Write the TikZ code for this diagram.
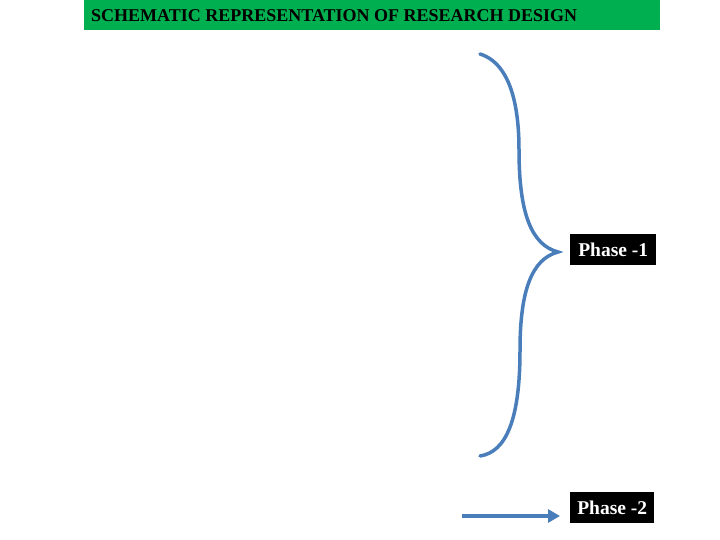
\documentclass[tikz,border=0pt]{standalone}
\usepackage{fontspec}
\setmainfont{Liberation Serif}
\usetikzlibrary{arrows.meta}
\definecolor{titlegreen}{RGB}{0,176,80}
\definecolor{linkblue}{RGB}{74,126,187}
\tikzset{
  phasebox/.style={fill=black, text=white, font=\fontsize{19.5}{21}\selectfont\bfseries, inner sep=0pt, minimum width=86pt, minimum height=31pt},
  bluelink/.style={draw=linkblue, line width=3.5pt}
}
\begin{document}
\begin{tikzpicture}[x=1pt,y=-1pt]
\useasboundingbox (0,0) rectangle (720,540);
\fill[white] (0,0) rectangle (720,540);
\node[fill=titlegreen, minimum width=576pt, minimum height=30pt, inner sep=0pt, anchor=north west] (title) at (84,0) {};
\node[anchor=west, inner sep=0pt, font=\fontsize{18}{20}\selectfont\bfseries] (titletext) at (91,15.5) {SCHEMATIC REPRESENTATION OF RESEARCH DESIGN};
\node[phasebox, anchor=north west] (p1) at (570,234) {Phase -1};
\node[phasebox, anchor=north west, minimum width=84pt] (p2) at (570,492) {Phase -2};
\coordinate (btop) at (480,54);
\coordinate (btip) at (558,252);
\coordinate (bbot) at (480,456);
\draw[bluelink, line cap=round] (btop) .. controls (512,64) and (519,110) .. (519,150)
  .. controls (519,215) and (532,245) .. (btip)
  .. controls (532,259) and (520,290) .. (520,350)
  .. controls (520,420) and (506,452) .. (bbot);
\coordinate (astart) at (462,516);
\coordinate (aend) at (560,516);
\draw[bluelink, -{Triangle[length=12pt,width=13pt]}] (astart) -- (aend);
\end{tikzpicture}
\end{document}
